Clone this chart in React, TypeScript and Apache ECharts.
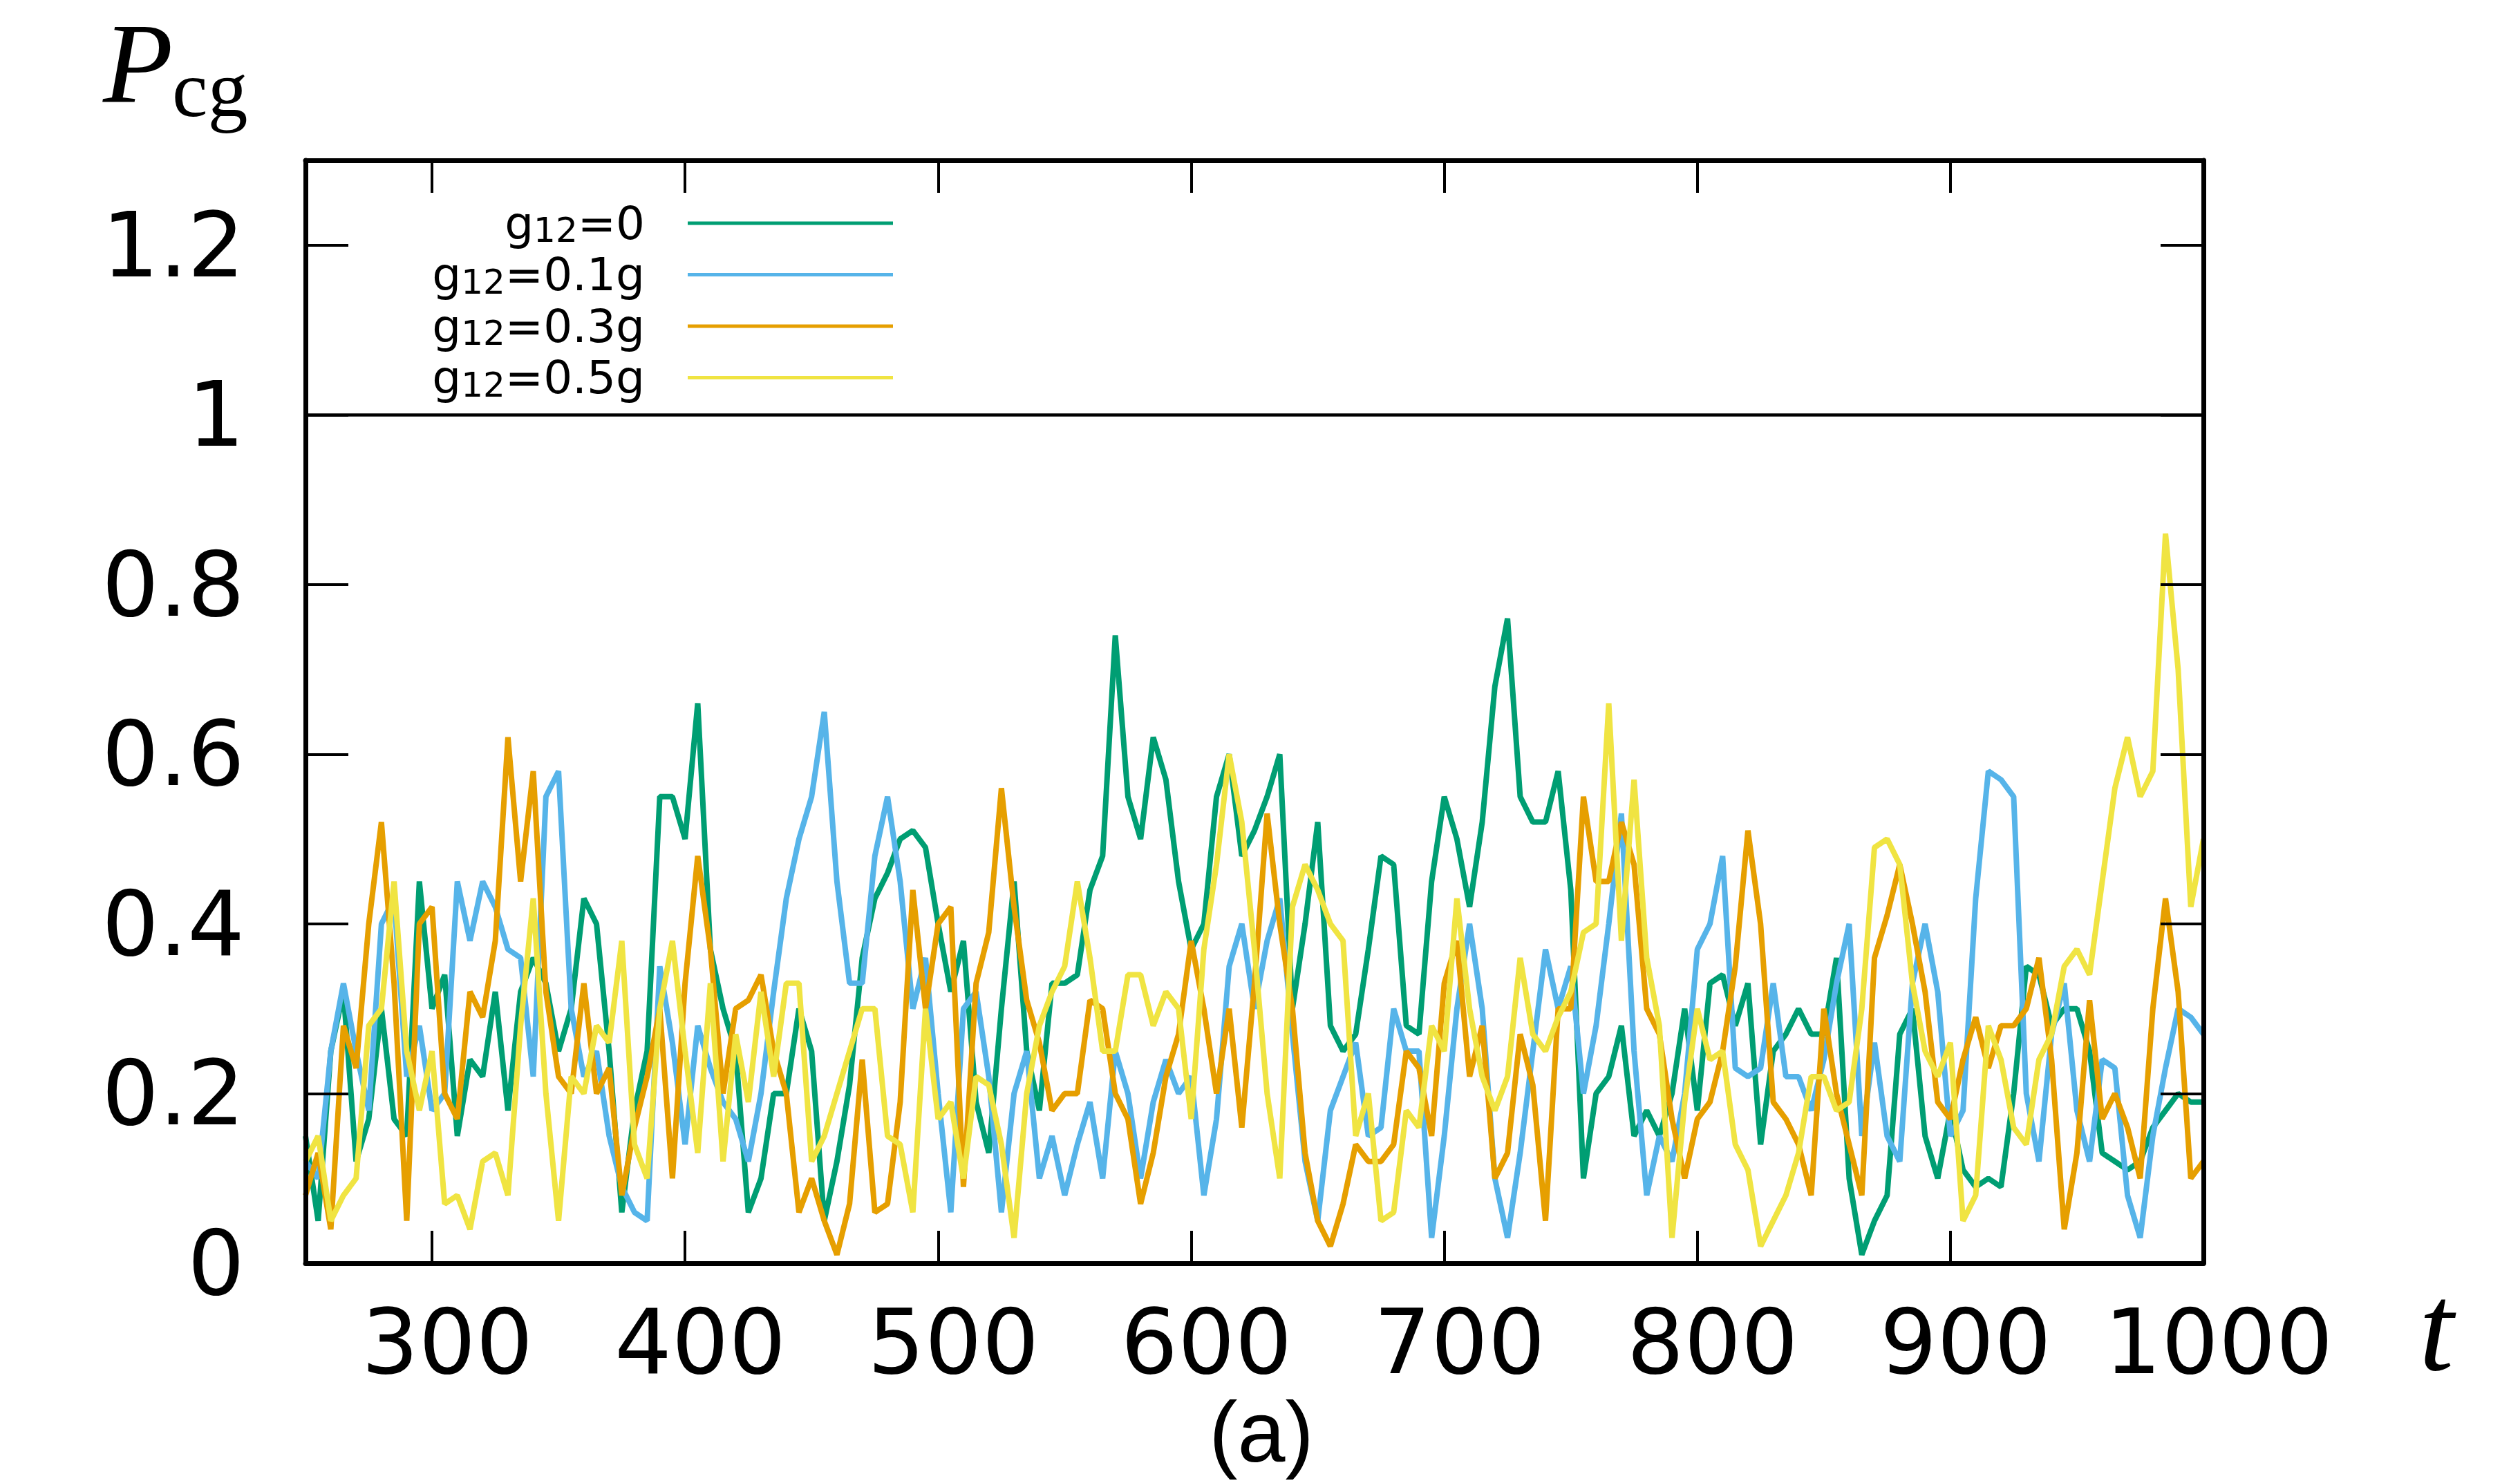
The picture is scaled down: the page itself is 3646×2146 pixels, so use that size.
import React, { useEffect, useRef } from "react";
import * as echarts from "echarts";

// sample times t = 250, 255, ..., 1000
const T_START = 250;
const T_STEP = 5;

const green = [
  0.15, 0.05, 0.25, 0.32, 0.12, 0.17, 0.30, 0.17, 0.15, 0.45,
  0.30, 0.34, 0.15, 0.24, 0.22, 0.32, 0.18, 0.32, 0.36, 0.33,
  0.25, 0.30, 0.43, 0.40, 0.25, 0.06, 0.18, 0.25, 0.55, 0.55,
  0.50, 0.66, 0.37, 0.30, 0.25, 0.06, 0.10, 0.20, 0.20, 0.30,
  0.25, 0.05, 0.12, 0.21, 0.36, 0.43, 0.46, 0.50, 0.51, 0.49,
  0.40, 0.32, 0.38, 0.19, 0.13, 0.30, 0.45, 0.25, 0.18, 0.33,
  0.33, 0.34, 0.44, 0.48, 0.74, 0.55, 0.50, 0.62, 0.57, 0.45,
  0.37, 0.40, 0.55, 0.60, 0.48, 0.51, 0.55, 0.60, 0.30, 0.40,
  0.52, 0.28, 0.25, 0.27, 0.37, 0.48, 0.47, 0.28, 0.27, 0.45,
  0.55, 0.50, 0.42, 0.52, 0.68, 0.76, 0.55, 0.52, 0.52, 0.58,
  0.44, 0.10, 0.20, 0.22, 0.28, 0.15, 0.18, 0.15, 0.20, 0.30,
  0.18, 0.33, 0.34, 0.28, 0.33, 0.14, 0.25, 0.27, 0.30, 0.27,
  0.27, 0.36, 0.10, 0.01, 0.05, 0.08, 0.27, 0.30, 0.15, 0.10,
  0.18, 0.11, 0.09, 0.10, 0.09, 0.20, 0.35, 0.34, 0.28, 0.30,
  0.30, 0.25, 0.13, 0.12, 0.11, 0.12, 0.16, 0.18, 0.20, 0.19,
  0.19,
];

const blue = [
  0.12, 0.10, 0.25, 0.33, 0.25, 0.18, 0.40, 0.43, 0.22, 0.28,
  0.18, 0.20, 0.45, 0.38, 0.45, 0.42, 0.37, 0.36, 0.22, 0.55,
  0.58, 0.30, 0.22, 0.25, 0.15, 0.09, 0.06, 0.05, 0.35, 0.26,
  0.14, 0.28, 0.23, 0.19, 0.17, 0.12, 0.20, 0.32, 0.43, 0.50,
  0.55, 0.65, 0.45, 0.33, 0.33, 0.48, 0.55, 0.45, 0.30, 0.36,
  0.20, 0.06, 0.30, 0.32, 0.22, 0.06, 0.20, 0.25, 0.10, 0.15,
  0.08, 0.14, 0.19, 0.10, 0.25, 0.20, 0.10, 0.19, 0.24, 0.20,
  0.22, 0.08, 0.17, 0.35, 0.40, 0.30, 0.38, 0.43, 0.27, 0.12,
  0.05, 0.18, 0.22, 0.26, 0.15, 0.16, 0.30, 0.25, 0.25, 0.03,
  0.15, 0.30, 0.40, 0.30, 0.10, 0.03, 0.13, 0.25, 0.37, 0.30,
  0.35, 0.20, 0.28, 0.40, 0.53, 0.25, 0.08, 0.15, 0.12, 0.20,
  0.37, 0.40, 0.48, 0.23, 0.22, 0.23, 0.33, 0.22, 0.22, 0.18,
  0.24, 0.33, 0.40, 0.15, 0.26, 0.15, 0.12, 0.33, 0.40, 0.32,
  0.15, 0.18, 0.43, 0.58, 0.57, 0.55, 0.20, 0.12, 0.27, 0.33,
  0.18, 0.12, 0.24, 0.23, 0.08, 0.03, 0.15, 0.23, 0.30, 0.29,
  0.27,
];

const orange = [
  0.08, 0.13, 0.04, 0.28, 0.23, 0.40, 0.52, 0.33, 0.05, 0.40,
  0.42, 0.20, 0.17, 0.32, 0.29, 0.38, 0.62, 0.45, 0.58, 0.32,
  0.22, 0.20, 0.33, 0.20, 0.23, 0.08, 0.16, 0.22, 0.30, 0.10,
  0.33, 0.48, 0.37, 0.20, 0.30, 0.31, 0.34, 0.25, 0.20, 0.06,
  0.10, 0.05, 0.01, 0.07, 0.24, 0.06, 0.07, 0.19, 0.44, 0.30,
  0.40, 0.42, 0.09, 0.33, 0.39, 0.56, 0.42, 0.31, 0.26, 0.18,
  0.20, 0.20, 0.31, 0.30, 0.20, 0.17, 0.07, 0.13, 0.22, 0.27,
  0.38, 0.30, 0.20, 0.30, 0.16, 0.33, 0.53, 0.40, 0.30, 0.13,
  0.05, 0.02, 0.07, 0.14, 0.12, 0.12, 0.14, 0.25, 0.23, 0.15,
  0.33, 0.38, 0.22, 0.28, 0.10, 0.13, 0.27, 0.21, 0.05, 0.30,
  0.30, 0.55, 0.45, 0.45, 0.52, 0.47, 0.30, 0.27, 0.17, 0.10,
  0.17, 0.19, 0.25, 0.35, 0.51, 0.40, 0.19, 0.17, 0.14, 0.08,
  0.30, 0.20, 0.14, 0.08, 0.36, 0.41, 0.47, 0.40, 0.32, 0.19,
  0.17, 0.24, 0.29, 0.23, 0.28, 0.28, 0.30, 0.36, 0.24, 0.04,
  0.13, 0.31, 0.17, 0.20, 0.16, 0.10, 0.30, 0.43, 0.32, 0.10,
  0.12,
];

const yellow = [
  0.12, 0.15, 0.05, 0.08, 0.10, 0.28, 0.30, 0.45, 0.25, 0.18,
  0.25, 0.07, 0.08, 0.04, 0.12, 0.13, 0.08, 0.28, 0.43, 0.20,
  0.05, 0.22, 0.20, 0.28, 0.26, 0.38, 0.14, 0.10, 0.30, 0.38,
  0.25, 0.13, 0.33, 0.12, 0.27, 0.19, 0.32, 0.22, 0.33, 0.33,
  0.12, 0.15, 0.20, 0.25, 0.30, 0.30, 0.15, 0.14, 0.06, 0.30,
  0.17, 0.19, 0.10, 0.22, 0.21, 0.14, 0.03, 0.20, 0.28, 0.32,
  0.35, 0.45, 0.36, 0.25, 0.25, 0.34, 0.34, 0.28, 0.32, 0.30,
  0.17, 0.37, 0.47, 0.60, 0.52, 0.37, 0.20, 0.10, 0.42, 0.47,
  0.44, 0.40, 0.38, 0.15, 0.20, 0.05, 0.06, 0.18, 0.16, 0.28,
  0.25, 0.43, 0.30, 0.22, 0.18, 0.22, 0.36, 0.27, 0.25, 0.29,
  0.32, 0.39, 0.40, 0.66, 0.38, 0.57, 0.36, 0.28, 0.03, 0.19,
  0.30, 0.24, 0.25, 0.14, 0.11, 0.02, 0.05, 0.08, 0.13, 0.22,
  0.22, 0.18, 0.19, 0.30, 0.49, 0.50, 0.47, 0.33, 0.25, 0.22,
  0.26, 0.05, 0.08, 0.28, 0.24, 0.16, 0.14, 0.24, 0.27, 0.35,
  0.37, 0.34, 0.45, 0.56, 0.62, 0.55, 0.58, 0.86, 0.70, 0.42,
  0.50,
];

const seriesNames = ["g12=0", "g12=0.1g", "g12=0.3g", "g12=0.5g"];
const seriesColors = ["#009E73", "#56B4E9", "#E69F00", "#F0E442"];
const seriesValues = [green, blue, orange, yellow];

const xTicks = [300, 400, 500, 600, 700, 800, 900, 1000];
const yTicks = [0, 0.2, 0.4, 0.6, 0.8, 1, 1.2];
const referenceLevel = 1;

const X_MIN = 250;
const X_MAX = 1000;
const Y_MIN = 0;
const Y_MAX = 1.3;

function buildOption() {
  const tickFont = { fontFamily: "DejaVu Sans", fontSize: 130, color: "#000" };
  const frameLine = { show: true, onZero: false, lineStyle: { color: "#000", width: 7 } };
  const xTick = {
    show: true,
    inside: true,
    length: 47,
    customValues: xTicks,
    lineStyle: { color: "#000", width: 4 },
  };
  const yTick = {
    show: true,
    inside: true,
    length: 62,
    customValues: yTicks,
    lineStyle: { color: "#000", width: 4 },
  };

  const series = seriesValues.map((vals, si) => ({
    name: seriesNames[si],
    type: "line",
    xAxisIndex: 0,
    yAxisIndex: 0,
    showSymbol: false,
    symbol: "none",
    data: vals.map((v, i) => [T_START + T_STEP * i, v]),
    lineStyle: { color: seriesColors[si], width: 8 },
    itemStyle: { color: seriesColors[si] },
    z: 2 + si,
    markLine:
      si === 0
        ? {
            silent: true,
            symbol: "none",
            label: { show: false },
            lineStyle: { color: "#000", width: 4.5, type: "solid" },
            data: [{ yAxis: referenceLevel }],
          }
        : undefined,
  }));

  return {
    animation: false,
    backgroundColor: "#fff",
    grid: { left: 442, top: 232, width: 2746, height: 1596, containLabel: false },
    xAxis: [
      {
        type: "value",
        position: "bottom",
        min: X_MIN,
        max: X_MAX,
        z: 10,
        axisLine: frameLine,
        splitLine: { show: false },
        axisTick: xTick,
        axisLabel: {
          show: true,
          customValues: xTicks,
          margin: 64,
          lineHeight: 100,
          padding: [0, 0, 0, 44],
          formatter: (v: number) => String(v),
          ...tickFont,
        },
      },
      {
        type: "value",
        position: "top",
        min: X_MIN,
        max: X_MAX,
        z: 10,
        axisLine: frameLine,
        splitLine: { show: false },
        axisTick: xTick,
        axisLabel: { show: false },
      },
    ],
    yAxis: [
      {
        type: "value",
        position: "left",
        min: Y_MIN,
        max: Y_MAX,
        z: 10,
        axisLine: frameLine,
        splitLine: { show: false },
        axisTick: yTick,
        axisLabel: {
          show: true,
          customValues: yTicks,
          margin: 88,
          formatter: (v: number) => String(v),
          ...tickFont,
        },
      },
      {
        type: "value",
        position: "right",
        min: Y_MIN,
        max: Y_MAX,
        z: 10,
        axisLine: frameLine,
        splitLine: { show: false },
        axisTick: yTick,
        axisLabel: { show: false },
      },
    ],
    legend: {
      show: true,
      data: seriesNames,
      orient: "vertical",
      align: "right",
      right: 3646 - 1292,
      top: 290,
      padding: 0,
      itemGap: 6.5,
      itemWidth: 297,
      itemHeight: 5,
      icon: "rect",
      selectedMode: false,
      formatter: (name: string) => {
        const rest = name.replace(/^g12/, "");
        return "{m|g}{s|12}{m|" + rest + "}";
      },
      textStyle: {
        fontFamily: "DejaVu Sans",
        fontSize: 66,
        color: "#000",
        padding: [0, 57, 0, 0],
        rich: {
          m: { fontFamily: "DejaVu Sans", fontSize: 66, lineHeight: 66, verticalAlign: "middle", color: "#000" },
          s: {
            fontFamily: "DejaVu Sans",
            fontSize: 50,
            lineHeight: 20,
            verticalAlign: "top",
            padding: [18, 0, 0, 0],
            color: "#000",
          },
        },
      },
    },
    graphic: [
      {
        type: "text",
        x: 149,
        y: 92,
        style: {
          text: "P",
          fontFamily: "Liberation Serif",
          fontStyle: "italic",
          fontSize: 166,
          lineHeight: 150,
          fill: "#000",
          align: "left",
          verticalAlign: "middle",
        },
      },
      {
        type: "text",
        x: 249,
        y: 129,
        style: {
          text: "cg",
          fontFamily: "Liberation Serif",
          fontSize: 116,
          fill: "#000",
          align: "left",
          verticalAlign: "middle",
        },
      },
      {
        type: "text",
        x: 3500,
        y: 1921,
        style: {
          text: "t",
          fontFamily: "Liberation Serif",
          fontStyle: "italic",
          fontSize: 180,
          fill: "#000",
          align: "left",
          verticalAlign: "middle",
        },
      },
      {
        type: "text",
        x: 1825,
        y: 2072,
        style: {
          text: "(a)",
          fontFamily: "Liberation Sans",
          fontSize: 124,
          lineHeight: 100,
          fill: "#000",
          align: "center",
          verticalAlign: "middle",
        },
      },
    ],
    series,
  };
}

export default function App() {
  const ref = useRef<HTMLDivElement>(null);
  useEffect(() => {
    if (!ref.current) return;
    const chart = echarts.init(ref.current, null, { renderer: "svg" });
    chart.setOption(buildOption() as any);
    return () => {
      chart.dispose();
    };
  }, []);
  return (
    <div
      ref={ref}
      style={{ position: "fixed", left: 0, top: 0, width: 3646, height: 2146, background: "#fff" }}
    />
  );
}
